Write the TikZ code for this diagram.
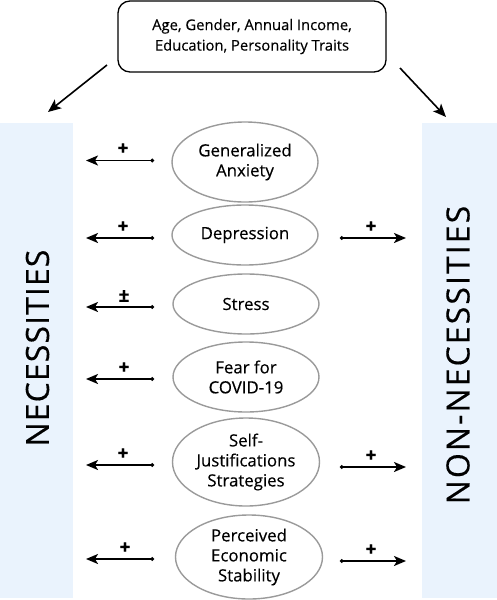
\documentclass[tikz,border=0pt]{standalone}
\usepackage{fontspec}
\setmainfont{Open Sans}[FakeBold=0.35]
\usetikzlibrary{shapes.geometric,arrows.meta}
\definecolor{bandblue}{HTML}{EAF3FD}
\definecolor{ovalgray}{HTML}{9A9A9A}
\begin{document}
\begin{tikzpicture}[x=1pt,y=-1pt,
  oval/.style={ellipse, draw=ovalgray, line width=1.4pt, inner sep=0pt, align=center, font=\fontsize{16.8}{20}\selectfont},
  band/.style={fill=bandblue, draw=none},
  conn/.style={line width=1.8pt, {Circle[length=3.6pt]}-{Stealth[length=12pt,width=10pt,inset=3pt]}},
  bigarr/.style={line width=1.6pt, -{Stealth[length=13pt,width=11pt,inset=3pt]}},
  sign/.style={font=\fontsize{19}{19}\selectfont\bfseries, inner sep=0pt},
  bandlabel/.style={rotate=90, inner sep=0pt}
]
\useasboundingbox (0,0) rectangle (497,600);
% bands
\fill[band] (0,123) rectangle (73,598);
\fill[band] (422,123) rectangle (497,598);
\node[bandlabel, font=\fontsize{32}{32}\selectfont\addfontfeatures{LetterSpace=3.4}] (nec) at (37.5,348) {NECESSITIES};
\node[bandlabel, font=\fontsize{32}{32}\selectfont\addfontfeatures{LetterSpace=6.5}] (nonnec) at (458,355) {NON-NECESSITIES};
% top box
\node[draw, line width=1.3pt, rounded corners=12pt, minimum width=268pt, minimum height=71pt, align=center, font=\fontsize{14.8}{20.5}\selectfont] (top) at (252,36.5) {Age, Gender, Annual Income,\\Education, Personality Traits};
\coordinate (tl0) at (107,65);
\coordinate (tl1) at (48,112);
\coordinate (tr0) at (400,68);
\coordinate (tr1) at (446,117);
\draw[bigarr] (tl0) -- (tl1);
\draw[bigarr] (tr0) -- (tr1);
% ovals
\node[oval, minimum width=146pt, minimum height=80pt] (e1) at (245,162) {Generalized\\Anxiety};
\node[oval, minimum width=146pt, minimum height=60pt] (e2) at (245,235) {Depression};
\node[oval, minimum width=146pt, minimum height=60pt] (e3) at (246,304) {Stress};
\node[oval, minimum width=146pt, minimum height=70pt] (e4) at (246,377) {Fear for\\COVID-19};
\node[oval, minimum width=147pt, minimum height=88pt] (e5) at (246,462) {Self-\\Justifications\\Strategies};
\node[oval, minimum width=147pt, minimum height=84pt] (e6) at (249,557) {Perceived\\Economic\\Stability};
% left connectors
\foreach \i/\y in {1/160.5, 2/238, 3/307, 4/379, 5/465, 6/559}{
  \coordinate (ls\i) at (154,\y);
  \coordinate (lt\i) at (86,\y);
  \draw[conn] (ls\i) -- (lt\i);
}
\node[sign] (p1) at (123,149) {+};
\node[sign] (p2) at (123,227) {+};
\node[sign] (p3) at (124,296) {±};
\node[sign] (p4) at (124,368) {+};
\node[sign] (p5) at (123,454) {+};
\node[sign] (p6) at (125,548) {+};
% right connectors
\foreach \i/\y in {2/238, 5/467, 6/561}{
  \coordinate (rs\i) at (340,\y);
  \coordinate (rt\i) at (406,\y);
  \draw[conn] (rs\i) -- (rt\i);
}
\node[sign] (q2) at (371,227) {+};
\node[sign] (q5) at (371,456) {+};
\node[sign] (q6) at (371,550) {+};
\end{tikzpicture}
\end{document}
